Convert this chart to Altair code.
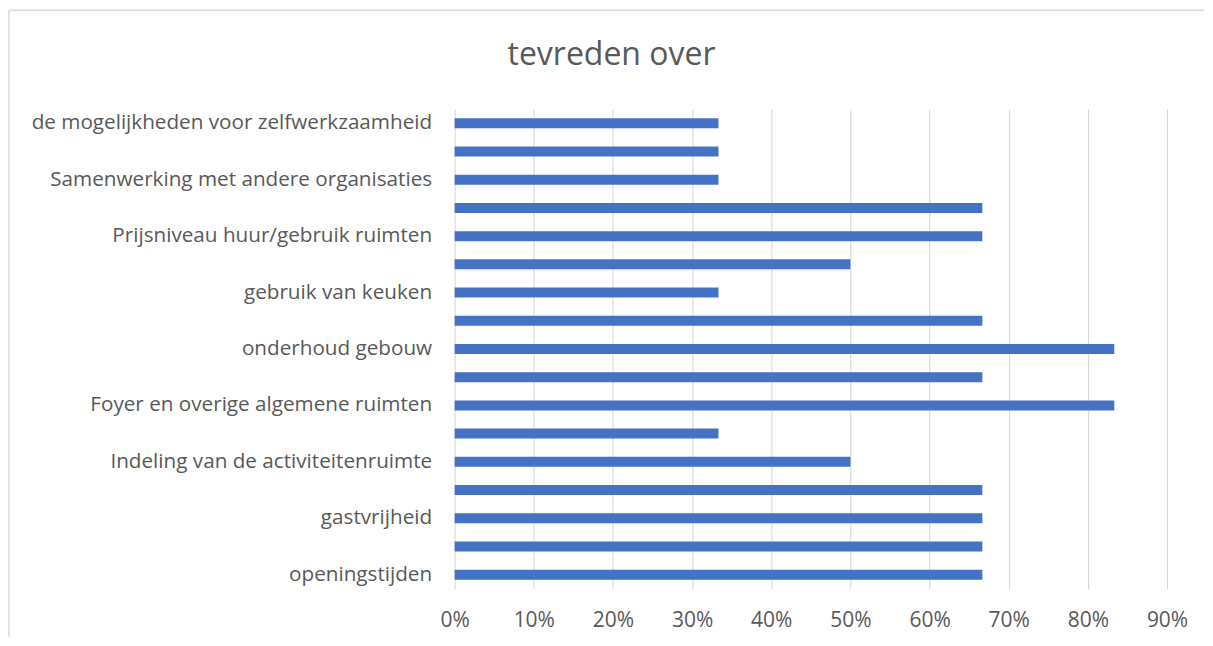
import json
import altair as alt
import pandas as pd

# Categories, top to bottom (Excel skipped every other label)
labels = [
    "de mogelijkheden voor zelfwerkzaamheid", "",
    "Samenwerking met andere organisaties", "",
    "Prijsniveau huur/gebruik ruimten", "",
    "gebruik van keuken", "",
    "onderhoud gebouw", "",
    "Foyer en overige algemene ruimten", "",
    "Indeling van de activiteitenruimte", "",
    "gastvrijheid", "",
    "openingstijden",
]
values = [1/3, 1/3, 1/3, 2/3, 2/3, 0.5, 1/3, 2/3, 5/6, 2/3, 5/6, 1/3, 0.5, 2/3, 2/3, 2/3, 2/3]
x_ticks = [0, 0.1, 0.2, 0.3, 0.4, 0.5, 0.6, 0.7, 0.8, 0.9]
title_text = "tevreden over"

df = pd.DataFrame({"rij": list(range(len(labels))), "waarde": values})
one = pd.DataFrame({"t": [title_text]})

FONT = "Open Sans"
GREY = "#595959"
W, H = 713, 480

label_expr = json.dumps(labels) + "[datum.value]"

bars = alt.Chart(df).mark_bar(color="#4472C4", size=10).encode(
    x=alt.X("waarde:Q",
            scale=alt.Scale(domain=[0, 0.9], nice=False),
            axis=alt.Axis(values=x_ticks, format=".0%", title=None, domain=False, ticks=False,
                          grid=True, gridColor="#D4D4D4", gridWidth=1,
                          labelFlush=False, labelOverlap=False,
                          labelFont=FONT, labelFontSize=21, labelColor=GREY, labelPadding=21)),
    y=alt.Y("rij:O", sort="ascending",
            scale=alt.Scale(paddingInner=0.0, paddingOuter=0.0),
            axis=alt.Axis(title=None, domain=False, ticks=False, grid=False,
                          labelExpr=label_expr, labelFont=FONT, labelFontSize=20.7,
                          labelColor=GREY, labelPadding=23, labelLimit=600,
                          minExtent=446, maxExtent=446)),
)

title = alt.Chart(one).mark_text(font=FONT, fontSize=32, color=GREY, align="center",
                                 baseline="alphabetic").encode(
    text="t:N", x=alt.value(157), y=alt.value(-44))

# thin outer frame (top and left edges of the original chart box)
frame_top = alt.Chart(one).mark_rule(color="#D9D9D9", strokeWidth=1.5).encode(
    x=alt.value(-446), x2=alt.value(750), y=alt.value(-99))
frame_left = alt.Chart(one).mark_rule(color="#D9D9D9", strokeWidth=1.5).encode(
    x=alt.value(-446), y=alt.value(-99), y2=alt.value(528))

chart = alt.layer(frame_top, frame_left, bars, title).properties(
    width=W, height=H,
    padding={"left": 0, "top": 1, "right": 0, "bottom": 0},
).configure_view(stroke=None)

chart.save("out.html", embed_options={"renderer": "svg", "actions": False})
